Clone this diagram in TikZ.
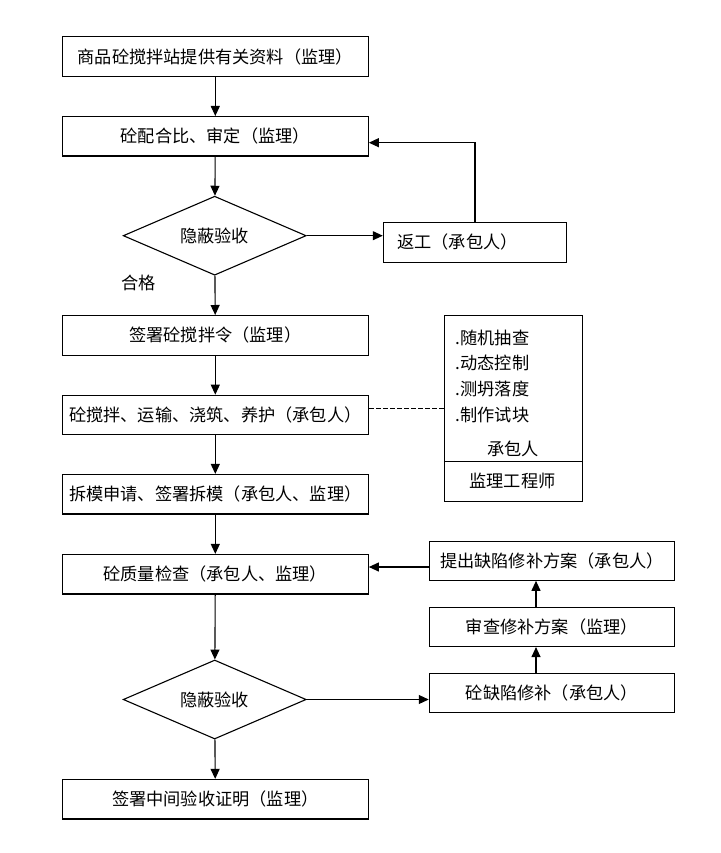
\documentclass[tikz,border=0pt]{standalone}
\usepackage{fontspec}
\newfontfamily\cjk{Noto Sans CJK SC}
\usetikzlibrary{arrows.meta,shapes.geometric}
\begin{document}
\begin{tikzpicture}[x=1pt,y=-1pt,
  every node/.style={font=\cjk\fontsize{17.2}{19}\selectfont},
  mainbox/.style={draw,line width=1.1pt,minimum width=306pt,minimum height=39.5pt,inner sep=0pt},
  sidebox/.style={draw,line width=1.1pt,minimum width=245pt,minimum height=39pt,inner sep=0pt},
  decide/.style={draw,diamond,line width=1.1pt,minimum width=183pt,minimum height=79pt,aspect=2.3,inner sep=0pt},
  txt/.style={inner sep=0pt},
  arr/.style={line width=1.1pt,-{Triangle[length=10pt,width=9pt]}},
  conn/.style={line width=1.1pt}]
\useasboundingbox (0,0) rectangle (720,853);
% main column
\node[mainbox] (b1) at (215.3,56.7) {商品砼搅拌站提供有关资料（监理）};
\node[mainbox] (b2) at (215.3,136.3) {砼配合比、审定（监理）};
\node[decide] (d1) at (214.7,235.7) {隐蔽验收};
\node[txt] (hg) at (138.5,283) {合格};
\node[mainbox] (b3) at (215.3,335.3) {签署砼搅拌令（监理）};
\node[mainbox] (b4) at (215.3,415) {砼搅拌、运输、浇筑、养护（承包人）};
\node[mainbox] (b5) at (215.3,494.2) {拆模申请、签署拆模（承包人、监理）};
\node[mainbox] (b6) at (215.3,574.2) {砼质量检查（承包人、监理）};
\node[decide] (d2) at (214.7,699.5) {隐蔽验收};
\node[mainbox] (b7) at (215.3,799.2) {签署中间验收证明（监理）};
% rework box
\node[draw,line width=1.1pt,minimum width=183.4pt,minimum height=40pt,inner sep=0pt] (fg) at (475,242.3) {};
\node[txt,anchor=west] (fgt) at (397,242.3) {返工（承包人）};
% right info box
\node[draw,line width=1.1pt,minimum width=138pt,minimum height=185.7pt,inner sep=0pt] (rb) at (513.3,408.2) {};
\draw[line width=1.1pt] (rb.west |- 0,461.7) coordinate (rdl) -- (rb.east |- 0,461.7) coordinate (rdr);
\node[txt,anchor=west] (r1) at (455.5,337.7) {.随机抽查};
\node[txt,anchor=west] (r2) at (455.5,362.7) {.动态控制};
\node[txt,anchor=west] (r3) at (455.5,389.3) {.测坍落度};
\node[txt,anchor=west] (r4) at (455.5,415) {.制作试块};
\node[txt] (r5) at (513,449) {承包人};
\node[txt] (r6) at (512.5,480.5) {监理工程师};
% repair boxes
\node[sidebox] (s1) at (551.8,560.8) {提出缺陷修补方案（承包人）};
\node[sidebox] (s2) at (551.8,627) {审查修补方案（监理）};
\node[sidebox] (s3) at (551.8,693.3) {砼缺陷修补（承包人）};
% connectors
\draw[arr] (b1) -- (b2);
\draw[arr] (b2) -- (d1);
\draw[arr] (d1) -- (b3);
\draw[arr] (b3) -- (b4);
\draw[arr] (b4) -- (b5);
\draw[arr] (b5) -- (b6);
\draw[arr] (b6) -- (d2);
\draw[arr] (d2) -- (b7);
\draw[arr] (d1.east) -- (d1.east -| fg.west);
\draw[arr] (fg.north) |- ([yshift=-6.4pt]b2.east);
\draw[line width=1pt,dash pattern=on 4.5pt off 2.5pt] (rb.west) -- (rb.west -| b4.east);
\draw[arr] (d2.east) -- (d2.east -| s3.west);
\draw[arr] ([xshift=-15.8pt]s3.north) -- ([xshift=-15.8pt]s2.south);
\draw[arr] ([xshift=-15.8pt]s2.north) -- ([xshift=-15.8pt]s1.south);
\coordinate (c1) at (429.3,567);
\draw[arr] (c1) -- (c1 -| b6.east);
\end{tikzpicture}
\end{document}
